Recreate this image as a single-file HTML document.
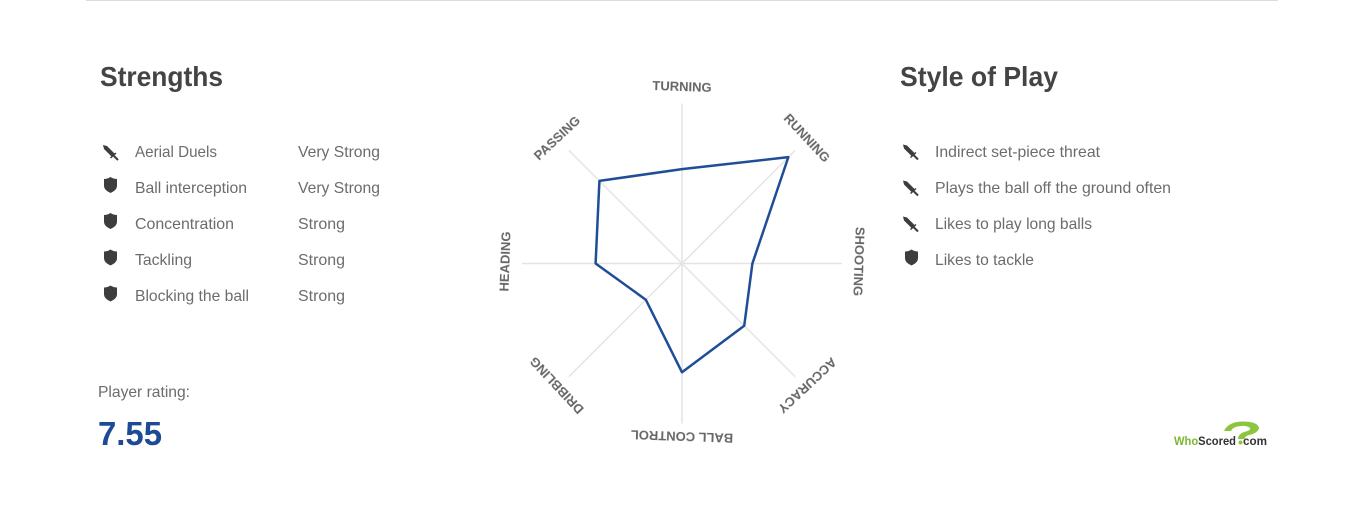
<!DOCTYPE html>
<html lang="en">
<head>
<meta charset="utf-8">
<title>Player characteristics</title>
<style>
html,body{margin:0;padding:0;background:#fff;width:1366px;height:512px;overflow:hidden}
svg{display:block;font-family:"Liberation Sans",sans-serif}
.h{font-size:28px;font-weight:700;fill:#444}
.t{font-size:16px;fill:#6c6c6c}
.lab{font-size:13px;font-weight:700;fill:#666;text-anchor:middle;dominant-baseline:central;filter:blur(0.3px)}
</style>
</head>
<body>
<svg id="root" width="1366" height="512" viewBox="0 0 1366 512">
  <defs>
    <path id="shield" d="M0 2 Q3.5 2 6.5 0 Q9.5 2 13 2 V9 Q13 13 6.5 16 Q0 13 0 9 Z" fill="#3d3d3d"/>
    <g id="sword">
      <path d="M0 0 L4 1 L12 9 L9 12 L1 4 Z" fill="#3d3d3d"/>
      <path d="M7 12.5 L12.500 7.500 L13.500 8.500 L8 13.500 Z" fill="#3d3d3d"/>
      <path d="M10 10 L15 15" stroke="#3d3d3d" stroke-width="2" fill="none"/>
    </g>
  </defs>

  <rect x="86" y="0" width="1192" height="1" fill="#dcdcdc"/>

  <text class="h" x="100" y="86" textLength="123" lengthAdjust="spacingAndGlyphs">Strengths</text>
  <text class="h" x="900" y="86" textLength="158" lengthAdjust="spacingAndGlyphs">Style of Play</text>

  <g>
    <use href="#sword" x="103" y="145"/>
    <text class="t" x="135" y="157" textLength="82" lengthAdjust="spacingAndGlyphs">Aerial Duels</text>
    <text class="t" x="298" y="157" textLength="82" lengthAdjust="spacingAndGlyphs">Very Strong</text>
    <use href="#shield" x="104" y="177"/>
    <text class="t" x="135" y="193" textLength="112" lengthAdjust="spacingAndGlyphs">Ball interception</text>
    <text class="t" x="298" y="193" textLength="82" lengthAdjust="spacingAndGlyphs">Very Strong</text>
    <use href="#shield" x="104" y="213"/>
    <text class="t" x="135" y="229" textLength="99" lengthAdjust="spacingAndGlyphs">Concentration</text>
    <text class="t" x="298" y="229" textLength="47" lengthAdjust="spacingAndGlyphs">Strong</text>
    <use href="#shield" x="104" y="249.500"/>
    <text class="t" x="135" y="265" textLength="57" lengthAdjust="spacingAndGlyphs">Tackling</text>
    <text class="t" x="298" y="265" textLength="47" lengthAdjust="spacingAndGlyphs">Strong</text>
    <use href="#shield" x="104" y="285.500"/>
    <text class="t" x="135" y="301" textLength="114" lengthAdjust="spacingAndGlyphs">Blocking the ball</text>
    <text class="t" x="298" y="301" textLength="47" lengthAdjust="spacingAndGlyphs">Strong</text>
  </g>

  <g>
    <use href="#sword" x="903" y="144.500"/>
    <text class="t" x="935" y="157" textLength="165" lengthAdjust="spacingAndGlyphs">Indirect set-piece threat</text>
    <use href="#sword" x="903" y="180.500"/>
    <text class="t" x="935" y="193" textLength="236" lengthAdjust="spacingAndGlyphs">Plays the ball off the ground often</text>
    <use href="#sword" x="903" y="216.500"/>
    <text class="t" x="935" y="229" textLength="157" lengthAdjust="spacingAndGlyphs">Likes to play long balls</text>
    <use href="#shield" x="905" y="249.500"/>
    <text class="t" x="935" y="265" textLength="99" lengthAdjust="spacingAndGlyphs">Likes to tackle</text>
  </g>

  <text class="t" x="98" y="397" textLength="92" lengthAdjust="spacingAndGlyphs">Player rating:</text>
  <text x="98" y="445" font-size="33" font-weight="700" fill="#1c4a94" textLength="64" lengthAdjust="spacingAndGlyphs">7.55</text>

  <g id="radar"></g>

  <g>
    <path d="M1224 431 Q1228 422 1242 421.500 Q1258 421.500 1259 428 Q1258 433 1249 435 Q1245 436 1244.500 439 L1238 439 Q1238 433.500 1246 431.500 Q1251 430 1250 428 Q1247 425.500 1241 426 Q1233 426.500 1231 431 Z" fill="#8cc63f"/>
    <text x="1174" y="445" font-size="11.500" font-weight="700" textLength="62" lengthAdjust="spacingAndGlyphs"><tspan fill="#7cb82f">Who</tspan><tspan fill="#333">Scored</tspan></text>
    <circle cx="1240.500" cy="442.500" r="2" fill="#8cc63f"/>
    <text x="1243" y="445" font-size="11.500" font-weight="700" fill="#333" textLength="24" lengthAdjust="spacingAndGlyphs">com</text>
  </g>
</svg>

<script>
const categories = ['TURNING', 'RUNNING', 'SHOOTING', 'ACCURACY', 'BALL CONTROL', 'DRIBBLING', 'HEADING', 'PASSING'];
const ratings = [0.59, 0.94, 0.44, 0.55, 0.68, 0.32, 0.54, 0.73];

const NS = 'http://www.w3.org/2000/svg';
const radar = document.getElementById('radar');
const cx = 682, cy = 263.5, radius = 160, labelRx = 177, labelRy = 175, labelCy = 261.5, labelTilt = 2;

function axisAngle(i) { return i * 2 * Math.PI / categories.length; }
function pointAt(i, fraction) {
  const a = axisAngle(i);
  return [cx + Math.sin(a) * radius * fraction, cy - Math.cos(a) * radius * fraction];
}

categories.forEach(function (name, i) {
  const end = pointAt(i, 1);
  const line = document.createElementNS(NS, 'line');
  
  
  line.setAttribute('x1', cx);
  line.setAttribute('y1', cy);
  line.setAttribute('x2', end[0]);
  line.setAttribute('y2', end[1]);
  line.setAttribute('stroke', '#e4e4e4');
  line.setAttribute('stroke-width', '1.500');
  radar.appendChild(line);
});

const shape = document.createElementNS(NS, 'polygon');


shape.setAttribute('points', ratings.map(function (v, i) { return pointAt(i, v).join(','); }).join(' '));
shape.setAttribute('fill', 'none');
shape.setAttribute('stroke', '#1f4d98');
shape.setAttribute('stroke-width', '2.500');
shape.setAttribute('stroke-linejoin', 'round');
radar.appendChild(shape);

categories.forEach(function (name, i) {
  const a = axisAngle(i);
  const x = cx + Math.sin(a) * labelRx;
  const y = labelCy - Math.cos(a) * labelRy;
  const label = document.createElementNS(NS, 'text');
  
  
  label.setAttribute('class', 'lab');
  label.setAttribute('x', x);
  label.setAttribute('y', y);
  label.setAttribute('transform', 'rotate(' + (a * 180 / Math.PI + labelTilt) + ' ' + x + ' ' + y + ')');
  label.textContent = name;
  radar.appendChild(label);
});
</script>
</body>
</html>
